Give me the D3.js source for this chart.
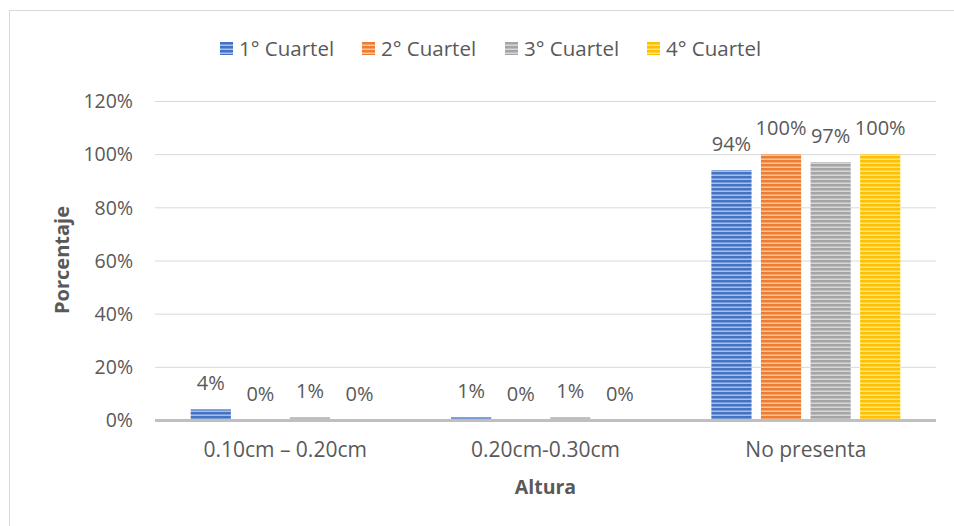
<!DOCTYPE html>
<html>
<head>
<meta charset="utf-8">
<script src="https://cdn.jsdelivr.net/npm/d3@7"></script>
<style>
  body { margin: 0; background: #fff; }
  svg text { font-family: "Open Sans", "Noto Sans", sans-serif; fill: #595959; }
</style>
</head>
<body>
<div id="chart"></div>
<script>
(() => {
  const categories = ['0.10cm – 0.20cm', '0.20cm-0.30cm', 'No presenta'];
  const seriesNames = ['1° Cuartel', '2° Cuartel', '3° Cuartel', '4° Cuartel'];
  const cuartel1 = [4, 1, 94];
  const cuartel2 = [0, 0, 100];
  const cuartel3 = [1, 1, 97];
  const cuartel4 = [0, 0, 100];
  const yTicks = [0, 20, 40, 60, 80, 100, 120];
  const colors = ['#4472C4', '#ED7D31', '#A5A5A5', '#FFC000'];

  const seriesValues = [cuartel1, cuartel2, cuartel3, cuartel4];
  const width = 954;
  const height = 526;
  const margin = { top: 101, right: 18, bottom: 106, left: 155 };

  const svg = d3.select('#chart').append('svg')
    .attr('width', width)
    .attr('height', height);

  const defs = svg.append('defs');
  colors.forEach((c, i) => {
    const p = defs.append('pattern')
      .attr('id', `stripe-${i}`)
      .attr('patternUnits', 'userSpaceOnUse')
      .attr('width', 8)
      .attr('height', 4);
    p.append('rect').attr('width', 8).attr('height', 4).attr('fill', c);
    p.append('rect').attr('y', 2.5).attr('width', 8).attr('height', 1.5)
      .attr('fill', '#fff').attr('opacity', 0.55);
  });

  // chart frame (only top and left edges visible)
  svg.append('rect')
    .attr('x', 9.5).attr('y', 10.5)
    .attr('width', 1200).attr('height', 1200)
    .attr('fill', 'none')
    .attr('stroke', '#d9d9d9');

  const x0 = d3.scaleBand()
    .domain(categories)
    .range([margin.left, width - margin.right])
    .paddingInner(0)
    .paddingOuter(0);

  const x1 = d3.scaleBand()
    .domain(seriesNames)
    .range([0, x0.bandwidth()])
    .paddingInner(0.19)
    .paddingOuter(0.72);

  const y = d3.scaleLinear()
    .domain([0, 120])
    .range([height - margin.bottom, margin.top]);

  const yAxis = svg.append('g')
    .attr('transform', `translate(${margin.left},0)`)
    .call(d3.axisLeft(y).tickValues(yTicks).tickFormat(d => d + '%').tickSize(-(width - margin.left - margin.right)))
    .call(g => g.select('.domain').remove());
  yAxis.selectAll('.tick line').attr('stroke', '#d9d9d9');
  yAxis.selectAll('.tick text')
    .attr('x', -22)
    .attr('dy', '0.35em')
    .style('font-size', '19.5px')
    .style('fill', '#595959');

  const groups = svg.append('g')
    .selectAll('g')
    .data(categories)
    .join('g')
    .attr('transform', d => `translate(${x0(d)},0)`);

  groups.selectAll('rect')
    .data((d, ci) => seriesNames.map((s, si) => ({ s, si, v: seriesValues[si][ci] })))
    .join('rect')
    .attr('x', d => x1(d.s))
    .attr('y', d => y(d.v))
    .attr('width', x1.bandwidth())
    .attr('height', d => y(0) - y(d.v))
    .attr('fill', d => `url(#stripe-${d.si})`);

  groups.selectAll('text')
    .data((d, ci) => seriesNames.map((s, si) => ({ s, si, v: seriesValues[si][ci] })))
    .join('text')
    .attr('x', d => x1(d.s) + x1.bandwidth() / 2)
    .attr('y', d => y(d.v) - 19)
    .attr('text-anchor', 'middle')
    .style('font-size', '20px')
    .text(d => d.v + '%');

  // baseline
  svg.append('line')
    .attr('x1', margin.left).attr('x2', width - margin.right)
    .attr('y1', y(0) + 0.5).attr('y2', y(0) + 0.5)
    .attr('stroke', '#bfbfbf')
    .attr('stroke-width', 3);

  svg.append('g')
    .selectAll('text')
    .data(categories)
    .join('text')
    .attr('x', d => x0(d) + x0.bandwidth() / 2)
    .attr('y', 457)
    .attr('text-anchor', 'middle')
    .style('font-size', '21px')
    .text(d => d);

  svg.append('text')
    .attr('x', x0.range()[0] + (x0.range()[1] - x0.range()[0]) / 2)
    .attr('y', 494)
    .attr('text-anchor', 'middle')
    .style('font-size', '19.5px')
    .style('font-weight', 'bold')
    .text('Altura');

  svg.append('text')
    .attr('transform', `translate(69, 260) rotate(-90)`)
    .attr('text-anchor', 'middle')
    .style('font-size', '20px')
    .style('font-weight', 'bold')
    .text('Porcentaje');

  const legendX = [220, 362, 505, 647];
  const legend = svg.append('g')
    .selectAll('g')
    .data(seriesNames)
    .join('g')
    .attr('transform', (d, i) => `translate(${legendX[i]},42)`);
  legend.append('rect')
    .attr('width', 13).attr('height', 13)
    .attr('fill', (d, i) => `url(#stripe-${i})`);
  legend.append('text')
    .attr('x', 19).attr('y', 14)
    .style('font-size', '20.5px')
    .text(d => d);
})();
</script>
</body>
</html>
